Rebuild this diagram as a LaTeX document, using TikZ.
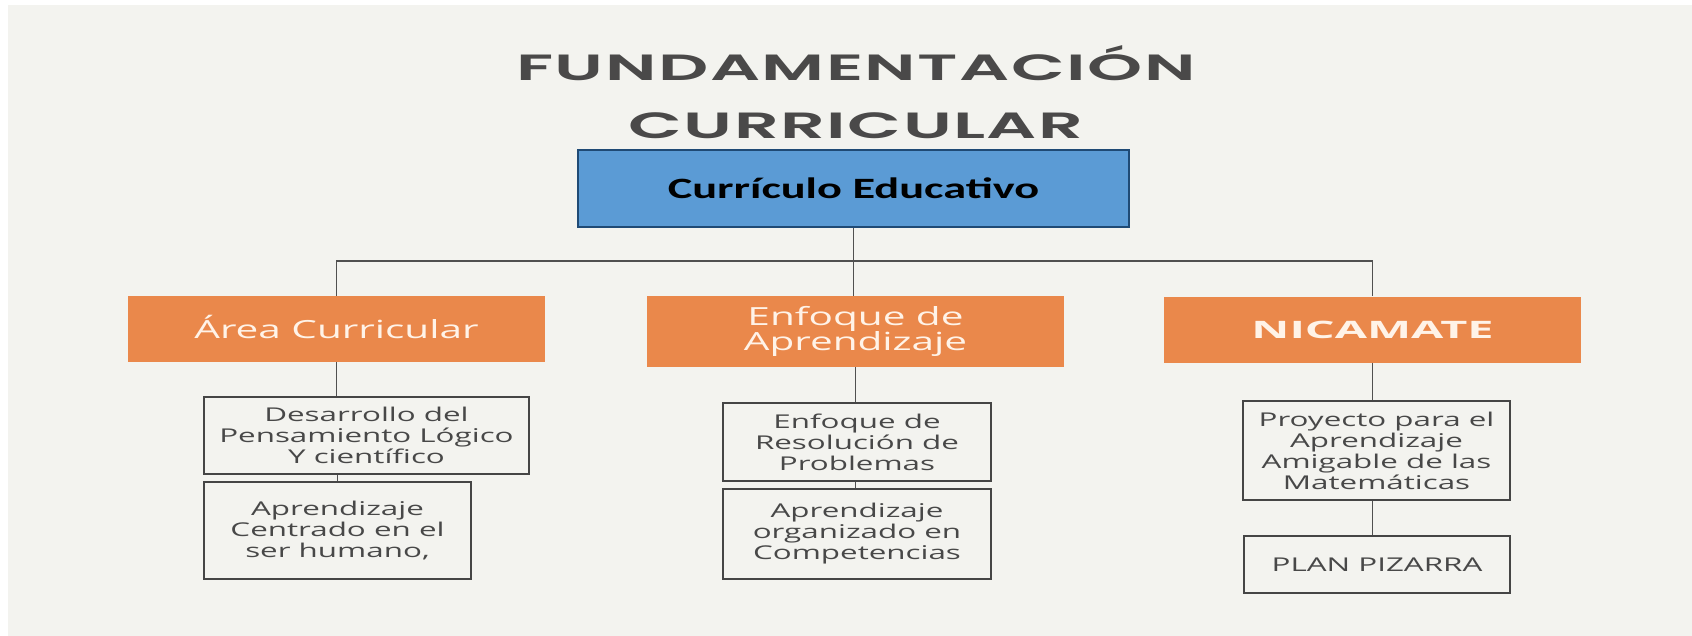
\documentclass[tikz,border=0pt]{standalone}
\usepackage{fontspec}
\setmainfont{Open Sans}
\newfontfamily\titlefont[FakeStretch=1.92, LetterSpace=4]{Poppins SemiBold}
\newfontfamily\bluefont[FakeStretch=1.57]{Carlito}
\newfontfamily\orangefont[FakeStretch=1.62]{Open Sans}
\newfontfamily\orangebold[FakeStretch=1.95]{Open Sans}
\newfontfamily\bodyfont[FakeStretch=1.65]{Open Sans}
\definecolor{bg}{HTML}{F3F3EF}
\definecolor{titlegray}{HTML}{4A4949}
\definecolor{bluefill}{HTML}{5B9BD5}
\definecolor{blueedge}{HTML}{1F4A75}
\definecolor{orangefill}{HTML}{EA884B}
\definecolor{orangetext}{HTML}{FFF3E8}
\definecolor{boxedge}{HTML}{454545}
\definecolor{bodytext}{HTML}{484848}
\definecolor{linkgray}{HTML}{505050}
\tikzset{
  titletext/.style={inner sep=0pt, text=titlegray, font=\titlefont\fontsize{36.5}{40}\selectfont},
  bluebox/.style={draw=blueedge, line width=2.8pt, fill=bluefill, inner sep=0pt,
    minimum width=551pt, minimum height=77pt, text=black,
    font=\bluefont\bfseries\fontsize{29.5}{32}\selectfont, text height=19pt, text depth=0pt},
  orangebox/.style={fill=orangefill, inner sep=0pt, minimum width=417pt, text=orangetext, align=center,
    font=\orangefont\fontsize{25}{25}\selectfont},
  childbox/.style={draw=boxedge, line width=1.6pt, fill=bg, inner sep=0pt, text=bodytext, align=center,
    font=\bodyfont\fontsize{19}{21}\selectfont},
  link/.style={draw=linkgray, line width=1.6pt}
}
\begin{document}
\begin{tikzpicture}[x=1pt, y=-1pt]
\useasboundingbox (0,0) rectangle (1692,635);
\fill[white] (-5,-5) rectangle (1700,640);
\fill[bg] (8,5) rectangle (1700,640);

% title
\node[titletext, anchor=base] (t1) at (856,80) {FUNDAMENTACIÓN};
\node[titletext, anchor=base] (t2) at (856,138) {CURRICULAR};

% top box
\node[bluebox] (cur) at (853.5,188.5) {Currículo Educativo};

% orange boxes
\node[orangebox, minimum height=66pt, text height=18pt, text depth=0pt] (o1) at (336.5,329) {Área Curricular};
\node[orangebox, minimum height=71pt] (o2) at (855.5,331.5) {Enfoque de\\Aprendizaje};
\node[orangebox, minimum height=66pt, text height=17pt, text depth=0pt, font=\orangebold\bfseries\fontsize{24}{25}\selectfont] (o3) at (1372.5,329.5) {NICAMATE};

% child boxes
\node[childbox, minimum width=325pt, minimum height=77pt] (c1a) at (366.5,435.5) {Desarrollo del\\Pensamiento Lógico\\Y científico};
\node[childbox, minimum width=267pt, minimum height=97pt] (c1b) at (337.5,530.5) {Aprendizaje\\Centrado en el\\ser humano,};
\node[childbox, minimum width=268pt, minimum height=78pt] (c2a) at (857,442) {Enfoque de\\Resolución de\\Problemas};
\node[childbox, minimum width=268pt, minimum height=90pt] (c2b) at (857,534) {Aprendizaje\\organizado en\\Competencias};
\node[childbox, minimum width=267pt, minimum height=99pt] (c3a) at (1376.5,450.5) {Proyecto para el\\Aprendizaje\\Amigable de las\\Matemáticas};
\node[childbox, minimum width=266pt, minimum height=57pt] (c3b) at (1377,564.5) {PLAN PIZARRA};

% connectors
\draw[link] (cur.south) -- (cur.south |- o2.north);
\draw[link] (o1.north) -- ++(0,-35) -| (o3.north);
\draw[link] (o1.south) -- (o1.south |- c1a.north);
\draw[link] (c1b.north) -- (c1b.north |- c1a.south);
\draw[link] (o2.south) -- (o2.south |- c2a.north);
\draw[link] (o2.south |- c2a.south) -- (o2.south |- c2b.north);
\draw[link] (o3.south) -- (o3.south |- c3a.north);
\draw[link] (o3.south |- c3a.south) -- (o3.south |- c3b.north);
\end{tikzpicture}
\end{document}
